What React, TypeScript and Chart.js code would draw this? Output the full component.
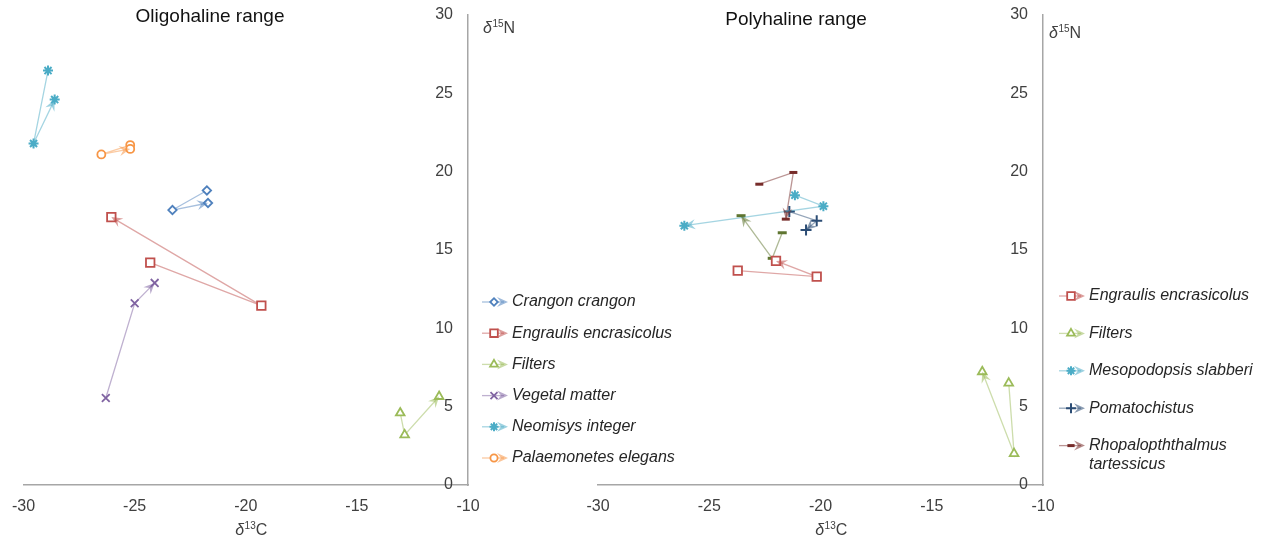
import React, { useEffect, useRef } from 'react';
import { Chart, registerables } from 'chart.js';
import { drawPoint } from 'chart.js/helpers';

Chart.register(...registerables);

// ---------- axis data ----------
const xTickValues = [-30, -25, -20, -15, -10];
const yTickValues = [0, 5, 10, 15, 20, 25, 30];

const oligoTitle = 'Oligohaline range';
const polyTitle = 'Polyhaline range';

// ---------- Oligohaline range (δ13C, δ15N) ----------
const oligoCrangonX = [-21.75, -23.3, -21.7];
const oligoCrangonY = [18.8, 17.55, 18.0];
const oligoEngraulisX = [-24.3, -19.3, -26.05];
const oligoEngraulisY = [14.2, 11.45, 17.1];
const oligoFiltersX = [-13.05, -12.85, -11.3];
const oligoFiltersY = [4.6, 3.2, 5.65];
const oligoVegetalX = [-26.3, -25.0, -24.1];
const oligoVegetalY = [5.55, 11.6, 12.9];
const oligoNeomisysX = [-28.9, -29.55, -28.6];
const oligoNeomisysY = [26.45, 21.8, 24.6];
const oligoPalaemonetesX = [-25.2, -26.5, -25.2];
const oligoPalaemonetesY = [21.7, 21.1, 21.45];

// ---------- Polyhaline range (δ13C, δ15N) ----------
const polyEngraulisX = [-23.72, -20.17, -22.0];
const polyEngraulisY = [13.68, 13.3, 14.3];
const polyFiltersX = [-11.54, -11.3, -12.73];
const polyFiltersY = [6.5, 2.0, 7.23];
const polyMesopodopsisX = [-21.15, -19.87, -26.12];
const polyMesopodopsisY = [18.5, 17.8, 16.55];
const polyPomatochistusX = [-21.4, -20.17, -20.65];
const polyPomatochistusY = [17.45, 16.87, 16.27];
const polyRhopaloX = [-22.75, -21.22, -21.56];
const polyRhopaloY = [19.2, 19.95, 16.97];
const polyUnlabeledX = [-21.72, -22.17, -23.57];
const polyUnlabeledY = [16.1, 14.47, 17.19];

// ---------- styles ----------
const FONT = '"Liberation Sans", Arial, sans-serif';
const TICK_COLOR = '#404040';
const AXIS_COLOR = '#A6A6A6';
const LEGEND_COLOR = '#262626';

type Series = {
  label: string[] | null;
  xs: number[];
  ys: number[];
  color: string;
  style: string;
  radius: number;
  bw: number;
};

const oligoSeries: Series[] = [
  { label: ['Crangon crangon'], xs: oligoCrangonX, ys: oligoCrangonY, color: '#4F81BD', style: 'rectRot', radius: 4.2, bw: 1.8 },
  { label: ['Engraulis encrasicolus'], xs: oligoEngraulisX, ys: oligoEngraulisY, color: '#C0504D', style: 'rect', radius: 6, bw: 1.8 },
  { label: ['Filters'], xs: oligoFiltersX, ys: oligoFiltersY, color: '#9BBB59', style: 'triangle', radius: 5, bw: 1.8 },
  { label: ['Vegetal matter'], xs: oligoVegetalX, ys: oligoVegetalY, color: '#8064A2', style: 'crossRot', radius: 5.5, bw: 1.8 },
  { label: ['Neomisys integer'], xs: oligoNeomisysX, ys: oligoNeomisysY, color: '#4BACC6', style: 'star', radius: 5, bw: 2 },
  { label: ['Palaemonetes elegans'], xs: oligoPalaemonetesX, ys: oligoPalaemonetesY, color: '#F79646', style: 'circle', radius: 4, bw: 1.8 },
];

const polySeries: Series[] = [
  { label: ['Engraulis encrasicolus'], xs: polyEngraulisX, ys: polyEngraulisY, color: '#C0504D', style: 'rect', radius: 6, bw: 1.8 },
  { label: ['Filters'], xs: polyFiltersX, ys: polyFiltersY, color: '#9BBB59', style: 'triangle', radius: 5, bw: 1.8 },
  { label: ['Mesopodopsis slabberi'], xs: polyMesopodopsisX, ys: polyMesopodopsisY, color: '#4BACC6', style: 'star', radius: 5, bw: 2 },
  { label: ['Pomatochistus'], xs: polyPomatochistusX, ys: polyPomatochistusY, color: '#2C4D75', style: 'cross', radius: 5.5, bw: 2 },
  { label: ['Rhopalopththalmus', 'tartessicus'], xs: polyRhopaloX, ys: polyRhopaloY, color: '#772C2A', style: 'line', radius: 4, bw: 3 },
  { label: null, xs: polyUnlabeledX, ys: polyUnlabeledY, color: '#5F7530', style: 'line', radius: 4.5, bw: 3 },
];

function rgba(hex: string, a: number) {
  const n = parseInt(hex.slice(1), 16);
  return `rgba(${(n >> 16) & 255},${(n >> 8) & 255},${n & 255},${a})`;
}

function drawArrow(ctx: CanvasRenderingContext2D, x0: number, y0: number, x1: number, y1: number, color: string) {
  const dx = x1 - x0, dy = y1 - y0;
  const len = Math.hypot(dx, dy);
  if (!len) return;
  const ux = dx / len, uy = dy / len, nx = -uy, ny = ux;
  const L = 11, W = 5, N = 7;
  ctx.beginPath();
  ctx.moveTo(x1, y1);
  ctx.lineTo(x1 - ux * L + nx * W, y1 - uy * L + ny * W);
  ctx.lineTo(x1 - ux * N, y1 - uy * N);
  ctx.lineTo(x1 - ux * L - nx * W, y1 - uy * L - ny * W);
  ctx.closePath();
  ctx.fillStyle = color;
  ctx.fill();
}

const arrowPlugin = {
  id: 'arrowHeads',
  afterDatasetsDraw(chart: any) {
    const ctx = chart.ctx;
    ctx.save();
    chart.data.datasets.forEach((ds: any, i: number) => {
      const pts = chart.getDatasetMeta(i).data;
      const n = pts.length;
      if (n < 2) return;
      drawArrow(ctx, pts[n - 2].x, pts[n - 2].y, pts[n - 1].x, pts[n - 1].y, ds.arrowColor);
    });
    ctx.restore();
  },
};

function drawDelta(ctx: CanvasRenderingContext2D, x: number, baseline: number, sup: string, letter: string, centered: boolean) {
  ctx.textBaseline = 'alphabetic';
  ctx.textAlign = 'left';
  ctx.fillStyle = TICK_COLOR;
  const f1 = `italic 16px ${FONT}`;
  const f2 = `10px ${FONT}`;
  const f3 = `16px ${FONT}`;
  ctx.font = f1; const w1 = ctx.measureText('δ').width;
  ctx.font = f2; const w2 = ctx.measureText(sup).width;
  ctx.font = f3; const w3 = ctx.measureText(letter).width;
  let sx = centered ? x - (w1 + w2 + w3) / 2 : x;
  ctx.font = f1; ctx.fillText('δ', sx, baseline); sx += w1 + 0.5;
  ctx.font = f2; ctx.fillText(sup, sx, baseline - 6); sx += w2;
  ctx.font = f3; ctx.fillText(letter, sx, baseline);
}

const decorPlugin = {
  id: 'panelDecor',
  afterDraw(chart: any, _args: any, opts: any) {
    const ctx = chart.ctx;
    ctx.save();
    // panel title
    ctx.font = `19px ${FONT}`;
    ctx.fillStyle = '#111';
    ctx.textAlign = 'center';
    ctx.textBaseline = 'alphabetic';
    ctx.fillText(opts.title, opts.titleX, opts.titleBaseline);
    // axis titles
    drawDelta(ctx, opts.yTitleX, opts.yTitleBaseline, '15', 'N', false);
    drawDelta(ctx, opts.xTitleX, opts.xTitleBaseline, '13', 'C', true);
    // legend
    let y = opts.legendY;
    const x = opts.legendX;
    chart.data.datasets.forEach((ds: any) => {
      if (!ds.legendLines) return;
      ctx.strokeStyle = ds.borderColor;
      ctx.lineWidth = 1.3;
      ctx.beginPath();
      ctx.moveTo(x, y);
      ctx.lineTo(x + 22, y);
      ctx.stroke();
      drawArrow(ctx, x, y, x + 26, y, ds.arrowColor);
      ctx.fillStyle = '#ffffff';
      ctx.strokeStyle = ds.pointBorderColor;
      ctx.lineWidth = ds.pointBorderWidth;
      drawPoint(ctx, { pointStyle: ds.pointStyle, rotation: 0, radius: ds.pointRadius * 0.9, borderWidth: ds.pointBorderWidth }, x + 12, y);
      ctx.font = `italic 16px ${FONT}`;
      ctx.fillStyle = LEGEND_COLOR;
      ctx.textAlign = 'left';
      ctx.textBaseline = 'middle';
      ds.legendLines.forEach((t: string, k: number) => {
        ctx.fillText(t, x + 30, y + k * opts.lineGap);
      });
      y += opts.legendSpacing;
    });
    ctx.restore();
  },
};

type PanelCfg = {
  title: string;
  series: Series[];
  areaLeft: number;
  areaRight: number;
  titleX: number;
  titleBaseline: number;
  yTitleX: number;
  yTitleBaseline: number;
  xTitleX: number;
  xTitleBaseline: number;
  legendX: number;
  legendY: number;
  legendSpacing: number;
  lineGap: number;
};

const W = 1271;
const H = 538;
const AREA_TOP = 15;
const AREA_BOTTOM = 485;
const Y_AXIS_W = 20;

function Panel({ cfg }: { cfg: PanelCfg }) {
  const ref = useRef<HTMLCanvasElement | null>(null);
  useEffect(() => {
    const datasets = cfg.series.map((s) => ({
      label: s.label ? s.label.join(' ') : '',
      legendLines: s.label,
      data: s.xs.map((x, i) => ({ x, y: s.ys[i] })),
      showLine: true,
      borderColor: rgba(s.color, 0.5),
      borderWidth: 1.3,
      arrowColor: rgba(s.color, 0.55),
      pointStyle: s.style,
      pointRadius: s.radius,
      pointBorderWidth: s.bw,
      pointBorderColor: s.color,
      pointBackgroundColor: '#ffffff',
      pointHoverRadius: s.radius,
    }));
    const tickFont = { family: FONT, size: 16 };
    const chart = new Chart(ref.current as HTMLCanvasElement, {
      type: 'scatter',
      data: { datasets } as any,
      options: {
        animation: false,
        responsive: false,
        events: [],
        layout: {
          padding: {
            left: cfg.areaLeft,
            right: W - cfg.areaRight - Y_AXIS_W,
            top: AREA_TOP,
            bottom: 0,
          },
        },
        scales: {
          x: {
            type: 'linear',
            position: 'bottom',
            min: xTickValues[0],
            max: xTickValues[xTickValues.length - 1],
            afterBuildTicks: (s: any) => {
              s.ticks = xTickValues.map((v) => ({ value: v }));
            },
            ticks: { padding: 12, color: TICK_COLOR, font: tickFont, maxRotation: 0, autoSkip: false },
            grid: { display: false, drawTicks: false },
            border: { display: true, color: AXIS_COLOR, width: 1.5 },
            afterFit: (s: any) => {
              s.height = H - AREA_BOTTOM;
            },
          },
          y: {
            type: 'linear',
            position: 'right',
            min: yTickValues[0],
            max: yTickValues[yTickValues.length - 1],
            afterBuildTicks: (s: any) => {
              s.ticks = yTickValues.map((v) => ({ value: v }));
            },
            ticks: { mirror: true, padding: -15, color: TICK_COLOR, font: tickFont, autoSkip: false },
            grid: { display: false, drawTicks: false },
            border: { display: true, color: AXIS_COLOR, width: 1.5 },
            afterFit: (s: any) => {
              s.width = Y_AXIS_W;
            },
          },
        },
        plugins: {
          legend: { display: false },
          tooltip: { enabled: false },
          title: { display: false },
          panelDecor: {
            title: cfg.title,
            titleX: cfg.titleX,
            titleBaseline: cfg.titleBaseline,
            yTitleX: cfg.yTitleX,
            yTitleBaseline: cfg.yTitleBaseline,
            xTitleX: cfg.xTitleX,
            xTitleBaseline: cfg.xTitleBaseline,
            legendX: cfg.legendX,
            legendY: cfg.legendY,
            legendSpacing: cfg.legendSpacing,
            lineGap: cfg.lineGap,
          },
        } as any,
      } as any,
      plugins: [arrowPlugin, decorPlugin],
    });
    return () => chart.destroy();
  }, [cfg]);
  return (
    <canvas
      ref={ref}
      width={W}
      height={H}
      style={{ position: 'absolute', left: 0, top: 0, width: W, height: H, display: 'block' }}
    />
  );
}

const oligoCfg: PanelCfg = {
  title: oligoTitle,
  series: oligoSeries,
  areaLeft: 22,
  areaRight: 468,
  titleX: 210,
  titleBaseline: 22,
  yTitleX: 483,
  yTitleBaseline: 32.5,
  xTitleX: 251,
  xTitleBaseline: 535,
  legendX: 482,
  legendY: 302,
  legendSpacing: 31.2,
  lineGap: 18.6,
};

const polyCfg: PanelCfg = {
  title: polyTitle,
  series: polySeries,
  areaLeft: 598,
  areaRight: 1043,
  titleX: 796,
  titleBaseline: 25,
  yTitleX: 1049,
  yTitleBaseline: 38,
  xTitleX: 831,
  xTitleBaseline: 535,
  legendX: 1059,
  legendY: 296,
  legendSpacing: 37.4,
  lineGap: 18.6,
};

export default function App() {
  return (
    <div style={{ position: 'absolute', left: 0, top: 0, width: W, height: H, background: '#ffffff' }}>
      <Panel cfg={oligoCfg} />
      <Panel cfg={polyCfg} />
    </div>
  );
}
